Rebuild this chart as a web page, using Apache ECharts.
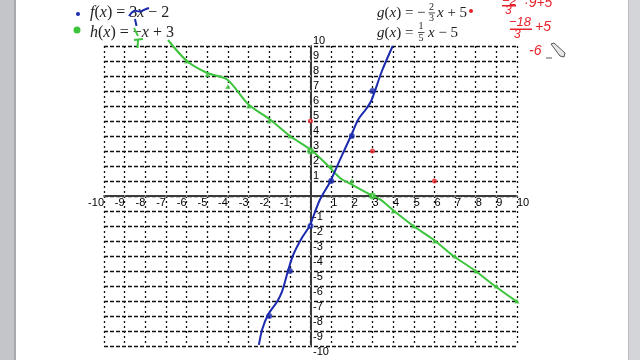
<!DOCTYPE html>
<html><head><meta charset="utf-8">
<script src="https://cdn.jsdelivr.net/npm/echarts@6/dist/echarts.min.js"></script>
<style>html,body{margin:0;padding:0;background:#fff}#c{width:640px;height:360px}</style>
</head><body><div id="c"></div>
<script>
// Axis range / ticks
const axisMin = -10, axisMax = 10, axisStep = 1;
const negTicks = [-10, -9, -8, -7, -6, -5, -4, -3, -2, -1];
const posTicks = [1, 2, 3, 4, 5, 6, 7, 8, 9, 10];

// Hand-drawn line h(x) = -x + 3 (green)
const hX = [-6.9, -5.97, -5.0, -4.04, -3.0, -1.96, -1.0, 0, 0.86, 1.43, 1.99, 2.88, 3.37, 4.0, 4.98, 5.95, 6.92, 7.89, 8.93, 9.98, 10.43];
const hY = [10.4, 8.98, 8.2, 7.77, 6.1, 5.1, 4.0, 3.1, 2.0, 1.2, 0.77, 0.1, -0.23, -0.95, -2.0, -2.9, -4.0, -4.9, -6.0, -7.03, -7.4];
// Hand-drawn line f(x) = 3x - 2 (blue)
const fX = [-2.5, -2.34, -2.05, -1.62, -1.38, -1.07, -0.83, -0.42, -0.03, 0.14, 0.46, 0.95, 1.43, 1.99, 2.3, 2.72, 2.96, 3.45, 3.98];
const fY = [-9.93, -8.9, -7.9, -7.05, -6.38, -4.9, -3.9, -2.8, -1.97, -1.35, -0.23, 0.95, 2.43, 4.1, 5.07, 5.85, 6.4, 8.3, 10.0];

// Plotted points
const hMarkX = [-6, -5, -4, -3, -2, -1, 1, 2, 4, 5, 6, 7, 8, 9, 10];
const hMarkY = [9, 8.1, 7.3, 6, 5, 4, 2, 1, -1, -2, -3, -4, -5, -6, -7];
const hDotX = [0, 3];
const hDotY = [3, 0];
const fMarkX = [-2, -1, 0, 1, 2, 3];
const fMarkY = [-8, -5, -2, 1, 4, 7];
const gX = [0, 3, 6];
const gY = [5, 3, 1];

const zip = (a, b) => a.map((v, i) => [v, b[i]]);
const GREEN = '#3cc43c', BLUE = '#1b2aae', RED = '#e8232b';

const gridLine = {color: '#111', width: 1.3};
const axisLineStyle = {show: true, onZero: true, lineStyle: {color: '#3a3a3a', width: 2}};
const lblBase = {fontFamily: 'Liberation Sans', fontSize: 11, color: '#000', opacity: 1};

const chart = echarts.init(document.getElementById('c'), null, {renderer: 'canvas'});

const serif = 'Liberation Serif';
function txt(x, y, text, opts) {
  return {type: 'text', x: x, y: y, z: 20, style: Object.assign({text: text, fill: '#222', font: '15px "' + serif + '"', verticalAlign: 'middle'}, opts || {})};
}
const rich = {i: {fontStyle: 'italic', fontFamily: serif, fontSize: 15, fill: '#222'}};
const rich16 = {i: {fontStyle: 'italic', fontFamily: serif, fontSize: 16, fill: '#222'}};
const f16 = '16px "' + serif + '"';

const graphics = [
  {type: 'rect', shape: {x: 0, y: 0, width: 16, height: 360}, style: {fill: '#c3c5c9'}, z: 30},
  {type: 'rect', shape: {x: 14, y: 0, width: 2, height: 360}, style: {fill: '#a8aaae'}, z: 30},
  {type: 'rect', shape: {x: 628, y: 0, width: 12, height: 360}, style: {fill: '#d3d5d8'}, z: 30},
  {type: 'rect', shape: {x: 628, y: 0, width: 1, height: 360}, style: {fill: '#b8babd'}, z: 30},
  // legend dots
  {type: 'circle', shape: {cx: 78, cy: 14, r: 2}, style: {fill: BLUE}, z: 20},
  {type: 'circle', shape: {cx: 77, cy: 30, r: 3.5}, style: {fill: GREEN}, z: 20},
  {type: 'circle', shape: {cx: 471, cy: 11, r: 2}, style: {fill: RED}, z: 20},
  // equations
  txt(90, 13, '{i|f}({i|x}) = 3{i|x} − 2', {rich: rich16, font: f16}),
  txt(90, 33, '{i|h}({i|x}) = −{i|x} + 3', {rich: rich16, font: f16}),
  txt(377, 13, '{i|g}({i|x}) = −', {rich: rich}),
  txt(429, 7, '2', {font: '10px "' + serif + '"'}),
  {type: 'rect', shape: {x: 428.5, y: 12.5, width: 6.5, height: 0.8}, style: {fill: '#222'}, z: 20},
  txt(429, 18.5, '3', {font: '10px "' + serif + '"'}),
  txt(437, 13, '{i|x} + 5', {rich: rich}),
  txt(377, 33, '{i|g}({i|x}) =', {rich: rich}),
  txt(418.5, 26.5, '1', {font: '10px "' + serif + '"'}),
  {type: 'rect', shape: {x: 418, y: 32, width: 6.5, height: 0.8}, style: {fill: '#222'}, z: 20},
  txt(418.5, 38, '5', {font: '10px "' + serif + '"'}),
  txt(428, 33, '{i|x} − 5', {rich: rich}),
  // handwriting: blue over "3", green under "-x"
  {type: 'polyline', shape: {points: [[129, 16], [134, 11], [140, 11.5], [145, 9.5], [149, 8]], smooth: 0.4}, style: {stroke: BLUE, lineWidth: 2, fill: null}, z: 21},
  {type: 'polyline', shape: {points: [[135, 19], [136.5, 26]]}, style: {stroke: BLUE, lineWidth: 2, fill: null}, z: 21},
  {type: 'polyline', shape: {points: [[134, 28], [138, 36]]}, style: {stroke: GREEN, lineWidth: 1.8, fill: null}, z: 21},
  {type: 'polyline', shape: {points: [[134, 40], [143, 39]]}, style: {stroke: GREEN, lineWidth: 2, fill: null}, z: 21},
  {type: 'polyline', shape: {points: [[138, 39.5], [137.5, 48]]}, style: {stroke: GREEN, lineWidth: 2, fill: null}, z: 21},
  // red handwriting
  txt(502, 1, '−2', {fill: RED, font: 'italic 13px "Liberation Sans"'}),
  {type: 'rect', shape: {x: 502, y: 5, width: 14, height: 1.5}, style: {fill: RED}, z: 20},
  txt(505, 11, '3', {fill: RED, font: 'italic 12px "Liberation Sans"'}),
  txt(524, 3, '·9+5', {fill: RED, font: 'italic 14px "Liberation Sans"'}),
  txt(509, 22, '−18', {fill: RED, font: 'italic 13px "Liberation Sans"'}),
  {type: 'rect', shape: {x: 510, y: 28.5, width: 22, height: 1.5}, style: {fill: RED}, z: 20},
  txt(514, 34.5, '3', {fill: RED, font: 'italic 12px "Liberation Sans"'}),
  txt(535, 27, '+5', {fill: RED, font: 'italic 14px "Liberation Sans"'}),
  txt(529, 51, '-6', {fill: RED, font: 'italic 14px "Liberation Sans"'}),
  // pencil cursor
  {type: 'polygon', shape: {points: [[551, 44], [554, 43], [565, 53], [564, 57], [560, 56]]}, style: {fill: '#e8e8e8', stroke: '#555', lineWidth: 1}, z: 22},
  {type: 'polyline', shape: {points: [[546, 58], [552, 58]]}, style: {stroke: '#777', lineWidth: 1.2, fill: null}, z: 22}
];

// tick-label series: text placed through the axes' own scales
function tickLabels(data, lbl) {
  return {type: 'scatter', data: data, symbol: 'rect', symbolSize: 1, silent: true, clip: false, z: 10,
    itemStyle: {color: '#fff', opacity: 1},
    label: Object.assign({show: true}, lblBase, lbl)};
}

const option = {
  animation: false,
  backgroundColor: '#ffffff',
  grid: {left: 104, right: 123, top: 46, bottom: 14, containLabel: false},
  xAxis: {type: 'value', min: axisMin, max: axisMax, interval: axisStep,
    axisLine: axisLineStyle, axisTick: {show: false}, axisLabel: {show: false},
    splitLine: {show: true, lineStyle: Object.assign({type: [2, 3]}, gridLine)}},
  yAxis: {type: 'value', min: axisMin, max: axisMax, interval: axisStep,
    axisLine: axisLineStyle, axisTick: {show: false}, axisLabel: {show: false},
    splitLine: {show: true, lineStyle: Object.assign({type: [4, 2]}, gridLine)}},
  series: [
    {type: 'line', data: zip(hX, hY), smooth: 0.3, showSymbol: false, clip: false, z: 5,
     lineStyle: {color: GREEN, width: 2}},
    {type: 'line', data: zip(fX, fY), smooth: 0.3, showSymbol: false, clip: false, z: 6,
     lineStyle: {color: BLUE, width: 2}},
    {type: 'scatter', data: zip(hMarkX, hMarkY), symbol: 'triangle', symbolSize: 5, z: 7,
     itemStyle: {color: GREEN}},
    {type: 'scatter', data: zip(hDotX, hDotY), symbol: 'circle', symbolSize: 7, z: 7,
     itemStyle: {color: GREEN}},
    {type: 'scatter', data: zip(fMarkX, fMarkY), symbol: 'circle', symbolSize: 6, z: 8,
     itemStyle: {color: BLUE}},
    {type: 'scatter', data: zip(gX, gY), symbol: 'circle', symbolSize: 5, z: 9,
     itemStyle: {color: RED}},
    tickLabels(negTicks.map(v => [v, 0]), {position: 'bottom', distance: 1, align: 'right', verticalAlign: 'top', formatter: p => String(p.value[0])}),
    tickLabels(posTicks.map(v => [v, 0]), {position: 'bottom', distance: 1, align: 'left', verticalAlign: 'top', formatter: p => String(p.value[0])}),
    tickLabels(posTicks.map(v => [0, v]), {position: 'right', distance: 2, align: 'left', verticalAlign: 'bottom', formatter: p => String(p.value[1])}),
    tickLabels(negTicks.map(v => [0, v]), {position: 'right', distance: 2, align: 'left', verticalAlign: 'top', formatter: p => String(p.value[1])})
  ],
  graphic: graphics
};
chart.setOption(option);
</script>
</body></html>
